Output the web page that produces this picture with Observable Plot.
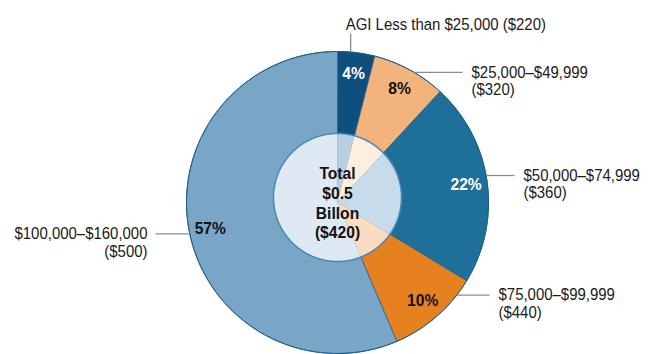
<!DOCTYPE html>
<html>
<head>
<meta charset="utf-8">
<script src="https://cdn.jsdelivr.net/npm/d3@7"></script>
<script src="https://cdn.jsdelivr.net/npm/@observablehq/plot@0.6"></script>
<style>
  html, body { margin: 0; padding: 0; background: #fff; }
  #chart { width: 671px; height: 354px; }
</style>
</head>
<body>
<div id="chart"></div>
<script>
// ---- data ----
const categories = ["AGI Less than $25,000", "$25,000–$49,999", "$50,000–$74,999", "$75,000–$99,999", "$100,000–$160,000"];
const amounts = ["($220)", "($320)", "($360)", "($440)", "($500)"];
const percents = [4, 8, 22, 10, 57];
const totalLines = ["Total", "$0.5", "Billon", "($420)"];

// ---- styles ----
const outerColors = ["#0e4f7d", "#f2b47c", "#1f6f9b", "#e5821f", "#79a6c7"];
const innerColors = ["#b8cfe2", "#fdeedf", "#c8dbea", "#fbdcc0", "#dfe9f3"];
const pctTextColors = ["#ffffff", "#111111", "#ffffff", "#111111", "#111111"];
// label layout: leader angle on the rim (deg clockwise from top), leader end (px)
const labelAngle = [5, 30.5, 79.7, 127.8, 258];
const leaderEnd = [33, 462, 514, 489, 155];

const W = 671, H = 354, R = 151, CX = 337, CY = 202;
const innerR = 64 / R, innerC = 5 / R;
const FONT = "'Liberation Sans',Arial,sans-serif";
const px = v => (v - CX) / R;
const py = v => (CY - v) / R;
const rad = d => d * Math.PI / 180;

// slice angles from data
const sum = d3.sum(percents);
let acc = 0;
const slices = percents.map((p, i) => {
  const a0 = acc / sum * 360;
  acc += p;
  const a1 = acc / sum * 360;
  return {i, p, a0, a1, mid: (a0 + a1) / 2};
});

function arc(a0, a1, r, cy = 0) {
  const pts = [];
  const n = Math.max(2, Math.ceil((a1 - a0) / 0.5));
  for (let k = 0; k <= n; k++) {
    const a = rad(a0 + (a1 - a0) * k / n);
    pts.push({x: r * Math.sin(a), y: cy + r * Math.cos(a)});
  }
  return pts;
}
function outerPoly(s) {
  return [{x: 0, y: 0}, ...arc(s.a0, s.a1, 1)];
}
function rayHit(aDeg) {
  const a = rad(aDeg), c = innerC, r = innerR;
  const t = c * Math.cos(a) + Math.sqrt(c * c * Math.cos(a) ** 2 - c * c + r * r);
  const x = t * Math.sin(a), y = t * Math.cos(a);
  const phi = Math.atan2(x, y - c) * 180 / Math.PI;
  return {x, y, phi};
}
function innerPoly(s) {
  const h0 = rayHit(s.a0), h1 = rayHit(s.a1);
  let p0 = h0.phi, p1 = h1.phi;
  while (p0 < 0) p0 += 360;
  while (p1 <= p0) p1 += 360;
  return [{x: 0, y: 0}, {x: h0.x, y: h0.y}, ...arc(p0, p1, innerR, innerC), {x: h1.x, y: h1.y}];
}

const marks = [];
slices.forEach(s => {
  marks.push(Plot.line(outerPoly(s), {x: "x", y: "y", curve: "linear-closed", fill: outerColors[s.i], stroke: "#1b5a86", strokeWidth: 0.8}));
});
slices.forEach(s => {
  marks.push(Plot.line(innerPoly(s), {x: "x", y: "y", curve: "linear-closed", fill: innerColors[s.i], stroke: "none"}));
});
marks.push(Plot.line(arc(0, 360, innerR, innerC), {x: "x", y: "y", curve: "linear-closed", fill: "none", stroke: "#4a88b5", strokeWidth: 1.5}));
marks.push(Plot.line(arc(0, 360, 1), {x: "x", y: "y", curve: "linear-closed", fill: "none", stroke: "#1b5a86", strokeWidth: 1}));

// percent labels
const pctData = slices.map(s => ({
  x: 0.86 * Math.sin(rad(s.mid)), y: 0.86 * Math.cos(rad(s.mid)),
  t: s.p + "%", c: pctTextColors[s.i]
}));
["#ffffff", "#111111"].forEach(col => {
  marks.push(Plot.text(pctData.filter(d => d.c === col), {x: "x", y: "y", text: "t", fill: col, fontSize: 17, fontWeight: "bold", fontFamily: FONT, className: "bold-label"}));
});

// center total
marks.push(Plot.text([totalLines.join("\n")], {x: 0, y: 0, text: d => d, fontSize: 17, fontWeight: "bold", lineHeight: 1.16, fill: "#111", fontFamily: FONT, className: "bold-label"}));

// leader lines
const leaders = slices.map(s => {
  const a = rad(labelAngle[s.i]);
  const x0 = Math.sin(a), y0 = Math.cos(a);
  if (s.i === 0) return {x1: x0, y1: y0, x2: x0, y2: py(leaderEnd[0])};
  return {x1: x0, y1: y0, x2: px(leaderEnd[s.i]), y2: y0};
});
marks.push(Plot.link(leaders, {x1: "x1", y1: "y1", x2: "x2", y2: "y2", stroke: "#8c8c8c", strokeWidth: 1.3}));

// category labels
const labelData = slices.map(s => {
  const L = leaders[s.i];
  if (s.i === 0) return {x: L.x1 - 5 / R, y: L.y2 + 9 / R, t: categories[0] + " " + amounts[0], anchor: "start"};
  const left = L.x2 < 0;
  return {x: L.x2 + (left ? -8 : 9) / R, y: L.y1 - 8.5 / R, t: categories[s.i] + "\n" + amounts[s.i], anchor: left ? "end" : "start"};
});
["start", "end"].forEach(an => {
  marks.push(Plot.text(labelData.filter(d => d.anchor === an), {x: "x", y: "y", text: "t", textAnchor: an, fontSize: 17, lineHeight: 1.02, fill: "#1a1a1a", fontFamily: FONT, className: "cat-label"}));
});

const chart = Plot.plot({
  width: W, height: H, margin: 0,
  x: {domain: [px(0), px(W)], axis: null},
  y: {domain: [py(H), py(0)], axis: null},
  style: {background: "#fff", overflow: "visible", fontFamily: FONT},
  marks
});
// condensed look: narrow each text horizontally around its own anchor
function condense(sel, k) {
  d3.select(chart).selectAll(sel).selectAll("text").each(function () {
    const t = this.getAttribute("transform") || "";
    this.setAttribute("transform", t + ` scale(${k},1)`);
  });
}
condense("g.cat-label", 0.88);
condense("g.bold-label", 0.92);
document.getElementById("chart").appendChild(chart);
</script>
</body>
</html>
